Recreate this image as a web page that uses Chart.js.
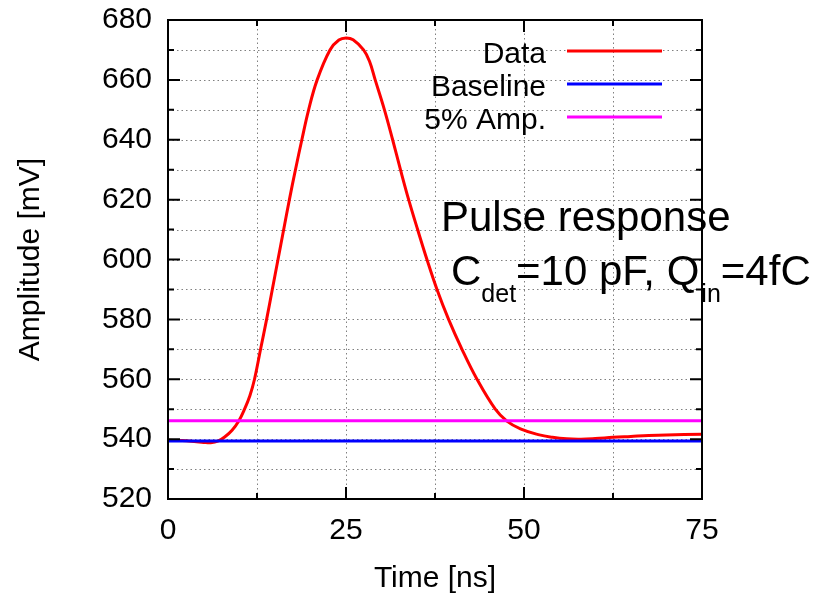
<!DOCTYPE html>
<html>
<head>
<meta charset="utf-8">
<script src="https://cdn.jsdelivr.net/npm/chart.js@4.4.1/dist/chart.umd.min.js"></script>
<style>
  body { margin: 0; background: #fff; }
</style>
</head>
<body>
<canvas id="chart" width="819" height="597"></canvas>
<script>
// pulse (ns, mV) - edges read where they cross the 10 mV grid
const times = [0, 2, 4, 5, 6, 7, 8, 9, 9.92, 10.75, 11.5, 12.15, 13.0, 13.85, 14.65, 15.45, 16.25, 17.05, 17.9, 18.8, 19.75, 20.95, 22.75, 24, 25,
  26, 27.47, 28.3, 29.1, 30.4, 31.55, 32.65, 33.8, 35.06, 36.37, 37.78, 39.41, 41.29, 43.4, 45.97, 47.6, 49.5,
  52, 54, 56, 58, 60, 62.5, 65, 67.5, 70, 75];
const amplitude = [539.6, 539.5, 539.1, 538.9, 538.8, 539.3, 540.8, 543.0, 546, 550, 554.5, 560, 570, 580, 590, 600, 610, 620, 630, 640, 650, 660, 670, 673.3, 674,
  673.4, 670, 666.2, 660, 650, 640, 630, 620, 610, 600, 590, 580, 570, 560, 550, 546, 543.4,
  541.5, 540.6, 540.1, 540.0, 540.2, 540.6, 540.9, 541.2, 541.4, 541.6];
const baselineLevel = 539.4;
const fivePctLevel = 546.1;

const xLabels = [0, 25, 50, 75];
const yLabels = [520, 540, 560, 580, 600, 620, 640, 660, 680];
const seriesNames = ['Data', 'Baseline', '5% Amp.'];
const seriesColors = ['#ff0000', '#0000ff', '#ff00ff'];

const FONT = 'Liberation Sans, Arial, sans-serif';

const flat = (lvl) => [{x: 0, y: lvl}, {x: 75, y: lvl}];

// dotted grid under the curves
const gridPlugin = {
    id: 'dotgrid',
    beforeDatasetsDraw(chart) {
        const ctx = chart.ctx;
        const a = chart.chartArea;
        const xs = chart.scales.x, ys = chart.scales.y;
        ctx.save();
        ctx.strokeStyle = '#808080';
        ctx.lineWidth = 1;
        ctx.setLineDash([1.5, 3]);
        xs.ticks.forEach(t => {
            const px = Math.round(xs.getPixelForValue(t.value)) + 0.5;
            ctx.beginPath(); ctx.moveTo(px, a.top); ctx.lineTo(px, a.bottom); ctx.stroke();
        });
        ys.ticks.forEach(t => {
            const py = Math.round(ys.getPixelForValue(t.value)) + 0.5;
            ctx.beginPath(); ctx.moveTo(a.left, py); ctx.lineTo(a.right, py); ctx.stroke();
        });
        ctx.restore();
    }
};

// legend, label text, frame and inside ticks (gnuplot style)
const decorPlugin = {
    id: 'decor',
    afterDraw(chart) {
        const ctx = chart.ctx;
        const a = chart.chartArea;
        const xs = chart.scales.x, ys = chart.scales.y;
        ctx.save();

        // legend
        ctx.font = '30px ' + FONT;
        ctx.fillStyle = '#000';
        ctx.textAlign = 'right';
        ctx.textBaseline = 'alphabetic';
        chart.data.datasets.forEach((ds, i) => {
            const ly = 51 + i * 33;
            ctx.fillText(ds.label, 546, ly + 12);
            ctx.strokeStyle = ds.borderColor;
            ctx.lineWidth = 3;
            ctx.beginPath();
            ctx.moveTo(567, ly); ctx.lineTo(662, ly);
            ctx.stroke();
        });

        // annotation with subscripts
        ctx.textAlign = 'left';
        ctx.font = '42px ' + FONT;
        ctx.fillText('Pulse response', 441, 231);
        const runs = [['C', 0], ['det', 1], ['=10 pF, Q', 0], ['in', 1], ['=4fC', 0]];
        let x = 451;
        runs.forEach(([txt, sub]) => {
            ctx.font = (sub ? '25px ' : '42px ') + FONT;
            if (txt === 'in') x += 2;
            ctx.fillText(txt, x, sub ? 302 : 285);
            x += ctx.measureText(txt).width;
        });

        ctx.strokeStyle = '#000';
        ctx.lineWidth = 2;
        ctx.strokeRect(a.left, a.top, a.right - a.left, a.bottom - a.top);
        xs.ticks.forEach(t => {
            const px = xs.getPixelForValue(t.value);
            const len = xLabels.includes(t.value) ? 12 : 6;
            ctx.beginPath();
            ctx.moveTo(px, a.bottom); ctx.lineTo(px, a.bottom - len);
            ctx.moveTo(px, a.top); ctx.lineTo(px, a.top + len);
            ctx.stroke();
        });
        ys.ticks.forEach(t => {
            const py = ys.getPixelForValue(t.value);
            const len = yLabels.includes(t.value) ? 12 : 6;
            ctx.beginPath();
            ctx.moveTo(a.left, py); ctx.lineTo(a.left + len, py);
            ctx.moveTo(a.right, py); ctx.lineTo(a.right - len, py);
            ctx.stroke();
        });
        ctx.restore();
    }
};

const ctx = document.getElementById('chart').getContext('2d');
let chart = new Chart(ctx, {
    type: 'line',
    data: {
        datasets: [{
            label: seriesNames[0],
            data: times.map((t, i) => ({x: t, y: amplitude[i]})),
            borderColor: seriesColors[0],
            borderWidth: 3,
            pointRadius: 0,
            tension: 0.4,
            order: 3
        }, {
            label: seriesNames[1],
            data: flat(baselineLevel),
            borderColor: seriesColors[1],
            borderWidth: 3,
            pointRadius: 0,
            order: 2
        }, {
            label: seriesNames[2],
            data: flat(fivePctLevel),
            borderColor: seriesColors[2],
            borderWidth: 3,
            pointRadius: 0,
            order: 1
        }]
    },
    options: {
        responsive: false,
        animation: false,
        layout: { padding: { top: 20, right: 117, bottom: 0, left: 0 } },
        plugins: { legend: { display: false }, tooltip: { enabled: false } },
        scales: {
            x: {
                type: 'linear',
                min: 0,
                max: 75,
                afterFit: s => { s.height = 98; s.paddingLeft = 0; s.paddingRight = 0; },
                ticks: {
                    stepSize: 12.5,
                    autoSkip: false,
                    maxRotation: 0,
                    padding: 14,
                    color: '#000',
                    font: { family: FONT, size: 30 },
                    callback: v => xLabels.includes(v) ? String(v) : ''
                },
                grid: { display: false, drawTicks: false },
                border: { display: false },
                title: {
                    display: true,
                    text: 'Time [ns]',
                    color: '#000',
                    font: { family: FONT, size: 30 },
                    padding: { top: 0, bottom: 0 }
                }
            },
            y: {
                min: 520,
                max: 680,
                afterFit: s => { s.width = 168; s.paddingTop = 0; s.paddingBottom = 0; },
                ticks: {
                    stepSize: 10,
                    autoSkip: false,
                    padding: 16,
                    color: '#000',
                    font: { family: FONT, size: 30 },
                    callback: v => yLabels.includes(v) ? String(v) : ''
                },
                grid: { display: false, drawTicks: false },
                border: { display: false },
                title: {
                    display: true,
                    text: 'Amplitude [mV]',
                    color: '#000',
                    font: { family: FONT, size: 30 },
                    padding: { top: 13, bottom: 0 }
                }
            }
        }
    },
    plugins: [gridPlugin, decorPlugin]
});
</script>
</body>
</html>
